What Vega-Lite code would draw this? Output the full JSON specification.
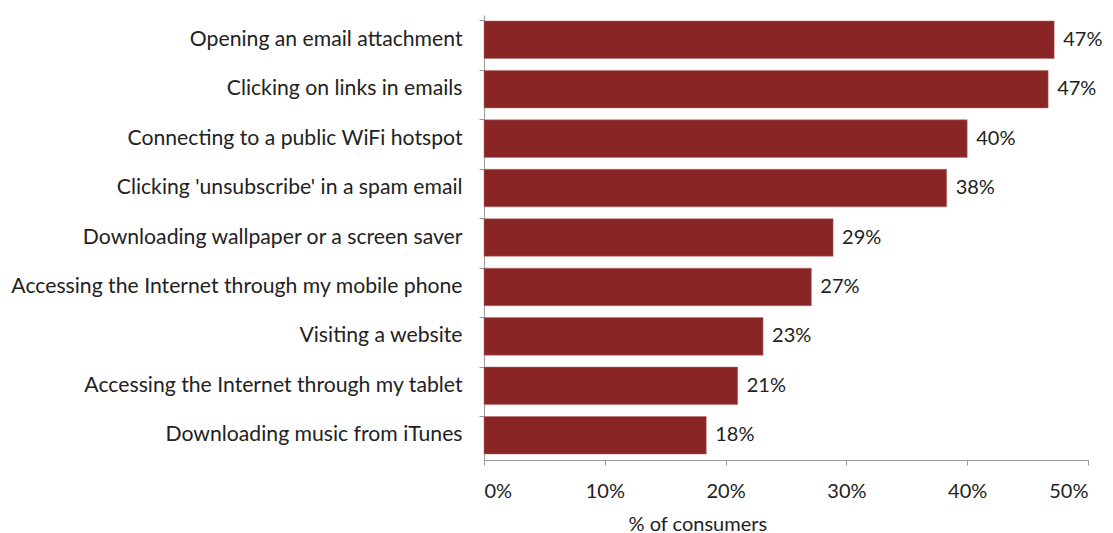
{
  "$schema": "https://vega.github.io/schema/vega-lite/v6.json",
  "width": 604,
  "height": 445,
  "autosize": "none",
  "padding": {"left": 484, "top": 15, "right": 25, "bottom": 73},
  "background": "white",
  "config": {"view": {"stroke": null}, "font": "Lato"},
  "data": {"values": [
    {"activity": "Opening an email attachment", "pct": 47.2, "label": "47%"},
    {"activity": "Clicking on links in emails", "pct": 46.7, "label": "47%"},
    {"activity": "Connecting to a public WiFi hotspot", "pct": 40.0, "label": "40%"},
    {"activity": "Clicking 'unsubscribe' in a spam email", "pct": 38.3, "label": "38%"},
    {"activity": "Downloading wallpaper or a screen saver", "pct": 28.9, "label": "29%"},
    {"activity": "Accessing the Internet through my mobile phone", "pct": 27.1, "label": "27%"},
    {"activity": "Visiting a website", "pct": 23.1, "label": "23%"},
    {"activity": "Accessing the Internet through my tablet", "pct": 21.0, "label": "21%"},
    {"activity": "Downloading music from iTunes", "pct": 18.4, "label": "18%"}
  ]},
  "encoding": {
    "y": {"field": "activity", "type": "nominal", "sort": null,
      "scale": {"paddingInner": 0.24, "paddingOuter": 0.12},
      "axis": {"title": null, "labelFontSize": 21.2, "labelColor": "#222", "labelLimit": 600, "labelPadding": 17,
        "domainColor": "#999", "tickColor": "#999", "tickSize": 5, "bandPosition": 0, "ticks": true}},
    "x": {"field": "pct", "type": "quantitative",
      "scale": {"domain": [0, 50]},
      "axis": {"title": "% of consumers", "titleFontSize": 20, "titleFontWeight": "normal", "titleColor": "#222", "titlePadding": 13,
        "titleAnchor": "start", "titleAlign": "left", "titleX": 144,
        "values": [0, 10, 20, 30, 40, 50], "labelExpr": "datum.value + '%'", "labelFontSize": 20, "labelColor": "#222", "labelPadding": 16,
        "grid": false, "domainColor": "#999", "tickColor": "#999", "tickSize": 5}}
  },
  "layer": [
    {"mark": {"type": "bar", "color": "#8a2526", "stroke": "#b86a6a", "strokeWidth": 0.5}},
    {"mark": {"type": "text", "align": "left", "dx": 9, "fontSize": 20, "color": "#222"},
     "encoding": {"text": {"field": "label", "type": "nominal"}}}
  ]
}
